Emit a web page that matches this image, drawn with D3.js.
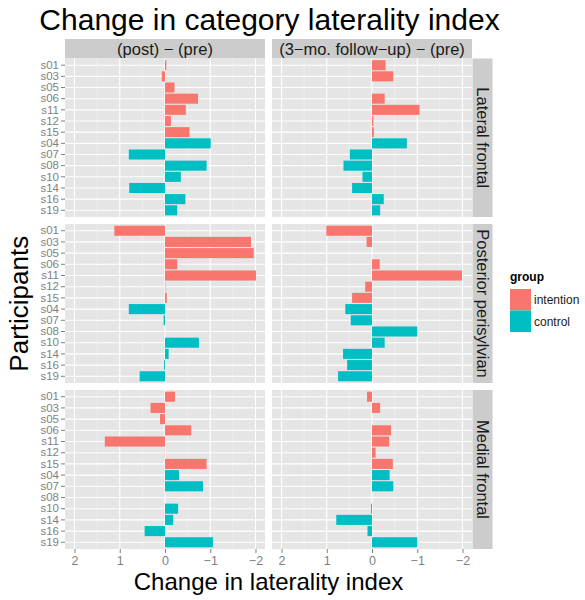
<!DOCTYPE html>
<html>
<head>
<meta charset="utf-8">
<script src="https://cdn.jsdelivr.net/npm/d3@7"></script>
<style>
  html, body { margin: 0; padding: 0; background: #fff; }
  svg { display: block; font-family: "Liberation Sans", Arial, Helvetica, sans-serif; }
</style>
</head>
<body>
<svg id="chart" width="585" height="600"></svg>
<script>
// ---------------- data ----------------
const participants = ["s01","s03","s05","s06","s11","s12","s15","s04","s07","s08","s10","s14","s16","s19"];
const groups = ["intention","intention","intention","intention","intention","intention","intention",
                "control","control","control","control","control","control","control"];
const groupNames = ["intention","control"];
const groupColors = ["#F8766D","#00BFC4"];
const regions = ["Lateral frontal","Posterior perisylvian","Medial frontal"];
const comparisons = ["(post) \u2212 (pre)","(3\u2212mo. follow\u2212up) \u2212 (pre)"];
const xTickValues = [2, 1, 0, -1, -2];
const xTickLabels = ["2","1","0","\u22121","\u22122"];
const xMinorValues = [1.5, 0.5, -0.5, -1.5];

const lateralPost   = [-0.03, 0.07, -0.21, -0.73, -0.46, -0.13, -0.54, -1.01, 0.80, -0.92, -0.35, 0.79, -0.45, -0.27];
const lateralFollow = [-0.30, -0.47, null, -0.28, -1.05, -0.03, -0.04, -0.77, 0.49, 0.63, 0.21, 0.44, -0.26, -0.18];
const posteriorPost   = [1.12, -1.90, -1.96, -0.27, -2.01, -0.01, -0.04, 0.80, 0.03, null, -0.75, -0.08, 0.02, 0.56];
const posteriorFollow = [1.01, 0.12, null, -0.17, -1.99, 0.15, 0.44, 0.59, 0.47, -1.00, -0.28, 0.64, 0.55, 0.75];
const medialPost   = [-0.22, 0.32, 0.11, -0.58, 1.33, 0.005, -0.92, -0.31, -0.84, null, -0.29, -0.18, 0.45, -1.06];
const medialFollow = [0.11, -0.18, null, -0.42, -0.38, -0.08, -0.46, -0.39, -0.47, null, 0.02, 0.79, 0.10, -1.00];

const panelValues = [
  [lateralPost, lateralFollow],
  [posteriorPost, posteriorFollow],
  [medialPost, medialFollow]
];

// ---------------- layout ----------------
const svg = d3.select("#chart");
const colX = [[65, 265], [272, 472]];
const stripTop = 39, stripH = 19.5;
const rowY = [[58.5, 217], [224, 383], [390, 549]];
const rightStrip = [472.5, 492.5];

const color = d3.scaleOrdinal().domain(groupNames).range(groupColors);

const textGrey = "#7F7F7F";

// title
svg.append("text")
  .attr("x", 269.5).attr("y", 30)
  .attr("text-anchor", "middle")
  .attr("font-size", 30)
  .attr("fill", "#000")
  .text("Change in category laterality index");

// top strips
comparisons.forEach((c, j) => {
  svg.append("rect")
    .attr("x", colX[j][0]).attr("y", stripTop)
    .attr("width", colX[j][1] - colX[j][0]).attr("height", stripH)
    .attr("fill", "#CCCCCC");
  svg.append("text")
    .attr("x", (colX[j][0] + colX[j][1]) / 2).attr("y", stripTop + stripH / 2 + 6)
    .attr("text-anchor", "middle")
    .attr("font-size", 16.5)
    .attr("fill", "#1A1A1A")
    .text(c);
});

regions.forEach((region, i) => {
  const [y0, y1] = rowY[i];
  const y = d3.scaleBand().domain(participants).range([y0, y1])
    .paddingInner(0.1).paddingOuter(0.15);

  // right strip
  svg.append("rect")
    .attr("x", rightStrip[0]).attr("y", y0)
    .attr("width", rightStrip[1] - rightStrip[0]).attr("height", y1 - y0)
    .attr("fill", "#CCCCCC");
  const cx = (rightStrip[0] + rightStrip[1]) / 2, cy = (y0 + y1) / 2;
  svg.append("text")
    .attr("transform", `translate(${cx - 6},${cy}) rotate(90)`)
    .attr("text-anchor", "middle")
    .attr("font-size", 16.5)
    .attr("fill", "#1A1A1A")
    .text(region);

  comparisons.forEach((c, j) => {
    const [x0, x1] = colX[j];
    const x = d3.scaleLinear().domain([2.21, -2.21]).range([x0, x1]);
    const g = svg.append("g");

    g.append("rect")
      .attr("x", x0).attr("y", y0)
      .attr("width", x1 - x0).attr("height", y1 - y0)
      .attr("fill", "#E5E5E5");

    // minor grid
    g.selectAll(".minor").data(xMinorValues).enter().append("line")
      .attr("x1", d => x(d)).attr("x2", d => x(d))
      .attr("y1", y0).attr("y2", y1)
      .attr("stroke", "#F2F2F2").attr("stroke-width", 0.6);
    // major grid
    g.selectAll(".majx").data(xTickValues).enter().append("line")
      .attr("x1", d => x(d)).attr("x2", d => x(d))
      .attr("y1", y0).attr("y2", y1)
      .attr("stroke", "#FFFFFF").attr("stroke-width", 1.1);
    g.selectAll(".majy").data(participants).enter().append("line")
      .attr("x1", x0).attr("x2", x1)
      .attr("y1", d => y(d) + y.bandwidth() / 2).attr("y2", d => y(d) + y.bandwidth() / 2)
      .attr("stroke", "#FFFFFF").attr("stroke-width", 1.1);

    // bars
    const vals = panelValues[i][j];
    const data = participants.map((p, k) => ({ p, g: groups[k], v: vals[k] }))
      .filter(d => d.v !== null);
    g.selectAll(".bar").data(data).enter().append("rect")
      .attr("x", d => Math.min(x(0), x(d.v)))
      .attr("width", d => Math.abs(x(d.v) - x(0)))
      .attr("y", d => y(d.p))
      .attr("height", y.bandwidth())
      .attr("fill", d => color(d.g));

    // y axis only on first column
    if (j === 0) {
      const ax = svg.append("g").attr("transform", `translate(${x0},0)`)
        .call(d3.axisLeft(y).tickSize(4).tickPadding(2));
      ax.select(".domain").remove();
      ax.selectAll(".tick line").attr("stroke", textGrey).attr("stroke-width", 1);
      ax.selectAll(".tick text").attr("fill", textGrey).attr("font-size", 11.5)
        .attr("font-family", "Liberation Sans, Arial, sans-serif");
    }
    // x axis on bottom row
    if (i === regions.length - 1) {
      const ax = svg.append("g").attr("transform", `translate(0,${y1})`)
        .call(d3.axisBottom(x).tickValues(xTickValues)
          .tickFormat((d, k) => xTickLabels[k]).tickSize(4).tickPadding(3));
      ax.select(".domain").remove();
      ax.selectAll(".tick line").attr("stroke", textGrey).attr("stroke-width", 1);
      ax.selectAll(".tick text").attr("fill", textGrey).attr("font-size", 12.5)
        .attr("font-family", "Liberation Sans, Arial, sans-serif");
    }
  });
});

// axis titles
svg.append("text")
  .attr("x", 268.5).attr("y", 590)
  .attr("text-anchor", "middle")
  .attr("font-size", 24)
  .attr("fill", "#000")
  .text("Change in laterality index");

svg.append("text")
  .attr("transform", `translate(28,${(rowY[0][0] + rowY[2][1]) / 2}) rotate(-90)`)
  .attr("text-anchor", "middle")
  .attr("font-size", 26)
  .attr("fill", "#000")
  .text("Participants");

// legend
const lg = svg.append("g").attr("transform", "translate(510,0)");
lg.append("text")
  .attr("x", 0).attr("y", 281)
  .attr("font-size", 12).attr("font-weight", "bold").attr("fill", "#000")
  .text("group");
groupNames.forEach((n, k) => {
  lg.append("rect")
    .attr("x", 0).attr("y", 289 + k * 21.5)
    .attr("width", 21).attr("height", 21.5)
    .attr("fill", color(n));
  lg.append("text")
    .attr("x", 24).attr("y", 289 + k * 21.5 + 15)
    .attr("font-size", 12).attr("fill", "#1A1A1A")
    .text(n);
});
</script>
</body>
</html>
